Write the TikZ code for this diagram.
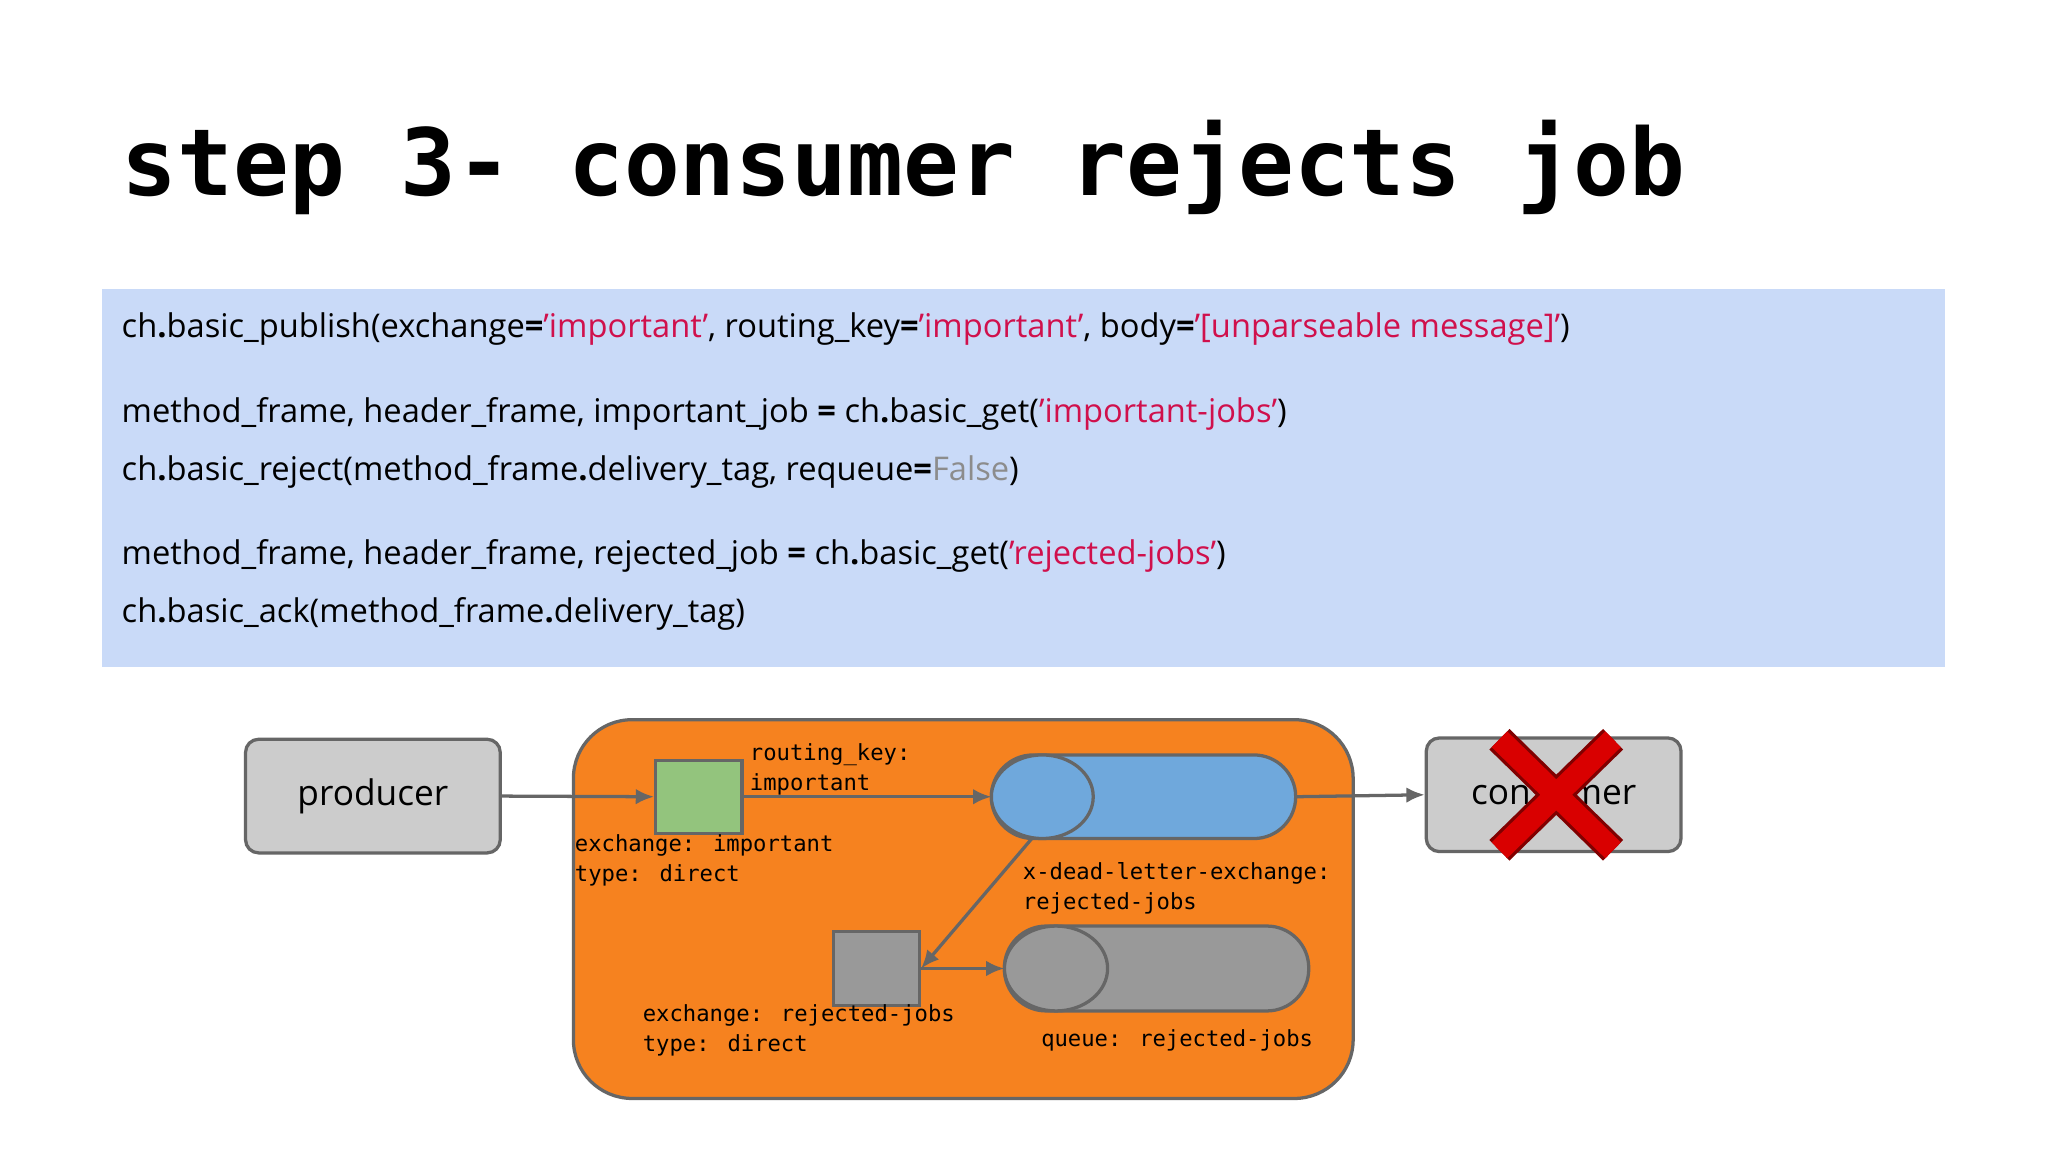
\documentclass[tikz,border=0pt]{standalone}
\usetikzlibrary{arrows.meta}
\usepackage{fontspec}
\setmainfont{Open Sans}
\newfontfamily\monof{DejaVu Sans Mono}
\definecolor{codebg}{HTML}{C9DAF8}
\definecolor{strc}{HTML}{D0104C}
\definecolor{orng}{HTML}{F6821F}
\definecolor{grn}{HTML}{93C47D}
\definecolor{blq}{HTML}{6FA8DC}
\definecolor{edge}{HTML}{666666}
\begin{document}
\begin{tikzpicture}[x=1pt,y=-1pt,
  box/.style={draw=edge,line width=2.5pt,rounded corners=10pt,fill=black!20},
  lbl/.style={anchor=north west,inner sep=0pt,align=left,font=\monof\fontsize{17}{23}\selectfont},
  code/.style={anchor=west,inner sep=0pt,font=\fontsize{25}{30}\selectfont},
  arr/.style={draw=edge,line width=2.5pt,-{Latex[length=14pt,width=12pt]}}]
\useasboundingbox (0,0) rectangle (1568,882);
\fill[white] (0,0) rectangle (1568,882);
\node[anchor=base west,inner sep=0pt,font=\monof\bfseries\fontsize{71}{80}\selectfont] (title) at (93,150) {step 3- consumer rejects job};
\fill[codebg] (78,221) rectangle (1489,511);
\node[code] (c1) at (93,252) {ch\textbf{.}basic\_publish(exchange\textbf{=}\textcolor{strc}{'important'}, routing\_key\textbf{=}\textcolor{strc}{'important'}, body\textbf{=}\textcolor{strc}{'[unparseable message]'})};
\node[code] (c2) at (93,317) {method\_frame, header\_frame, important\_job \textbf{=} ch\textbf{.}basic\_get(\textcolor{strc}{'important-jobs'})};
\node[code] (c3) at (93,361) {ch\textbf{.}basic\_reject(method\_frame\textbf{.}delivery\_tag, requeue\textbf{=}\textcolor{black!45}{False})};
\node[code] (c4) at (93,426) {method\_frame, header\_frame, rejected\_job \textbf{=} ch\textbf{.}basic\_get(\textcolor{strc}{'rejected-jobs'})};
\node[code] (c5) at (93,470) {ch\textbf{.}basic\_ack(method\_frame\textbf{.}delivery\_tag)};
% orange container
\draw[draw=edge,line width=2.5pt,fill=orng,rounded corners=45pt] (439,551) rectangle (1036,841);
\node[box,minimum width=195pt,minimum height=87pt,font=\fontsize{27}{30}\selectfont] (prod) at (285.5,609.5) {producer};
\node[box,minimum width=195pt,minimum height=87pt,font=\fontsize{27}{30}\selectfont] (cons) at (1189.5,608.5) {consumer};
\node[draw=edge,line width=2.5pt,fill=grn,minimum width=66pt,minimum height=56pt,inner sep=0pt] (ex1) at (535,610) {};
\node[draw=edge,line width=2.5pt,fill=black!40,minimum width=66pt,minimum height=57pt,inner sep=0pt] (ex2) at (671,741.5) {};
% blue queue
\draw[draw=edge,line width=2.5pt,fill=blq,rounded corners=32pt] (759,578) rectangle (992,642);
\draw[draw=edge,line width=2.5pt,fill=blq] (798,610) ellipse (39pt and 32pt);
\coordinate (q1l) at (759,610);
\coordinate (q1r) at (992,610);
\coordinate (q1b) at (790,642);
% gray queue
\draw[draw=edge,line width=2.5pt,fill=black!40,rounded corners=32pt] (769,709) rectangle (1002,774);
\draw[draw=edge,line width=2.5pt,fill=black!40] (808.5,741.5) ellipse (39.5pt and 32.5pt);
\coordinate (q2l) at (769,741.5);
% arrows
\draw[arr] (prod.east) -- (ex1.west);
\draw[arr] (ex1.east) -- (q1l);
\draw[arr] (q1r) -- (cons.west);
\draw[arr] (q1b) -- (ex2.east);
\draw[arr] (ex2.east) -- (q2l);
% red X
\draw[line width=22pt,draw=red!50!black] (1148,566) -- (1235,651) (1235,566) -- (1148,651);
\draw[line width=17pt,draw=red!85!black] (1148,566) -- (1235,651) (1235,566) -- (1148,651);
% labels
\node[lbl] (l1) at (574,569) {routing\_key:\\important};
\node[lbl] (l2) at (440,639) {exchange: important\\type: direct};
\node[lbl] (l3) at (783,660) {x-dead-letter-exchange:\\rejected-jobs};
\node[lbl] (l4) at (492,769) {exchange: rejected-jobs\\type: direct};
\node[lbl] (l5) at (797,788) {queue: rejected-jobs};
\end{tikzpicture}
\end{document}
